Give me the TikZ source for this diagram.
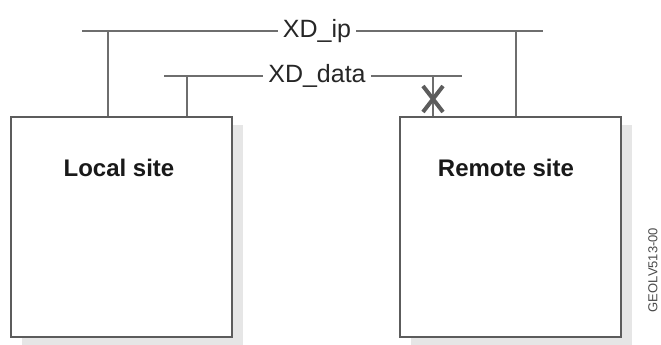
\documentclass[tikz,border=0pt]{standalone}
\usepackage{fontspec}
\setmainfont{Liberation Sans}
\usetikzlibrary{shadows,shapes.misc}

\definecolor{wiregray}{HTML}{6E6E6E}
\definecolor{boxgray}{HTML}{5C5C5C}
\definecolor{shadowgray}{HTML}{E6E6E6}
\definecolor{taggray}{HTML}{4A4A4A}

\tikzset{
	wire/.style={wiregray, line width=2pt},
	sitebox/.style={draw=boxgray, line width=2.4pt, fill=white, anchor=north west,
		minimum width=221pt, minimum height=220pt, inner sep=0pt,
		drop shadow={shadow xshift=11pt, shadow yshift=-8pt, fill=shadowgray, opacity=1}},
	sitetext/.style={font=\fontsize{24}{24}\selectfont\bfseries, text=black!90},
	buslabel/.style={font=\fontsize{25}{25}\selectfont, text=black!85, inner sep=5pt},
	cut/.style={cross out, draw=boxgray, line width=4pt, minimum width=16pt, minimum height=22pt, inner sep=0pt}
}

\begin{document}
\begin{tikzpicture}[x=1pt, y=-1pt]
			\useasboundingbox (0,0) rectangle (661,345);

			% the two sites
			\node[sitebox] (local) at (10,116) {};
			\node[sitebox] (remote) at (399,116) {};
			\node[sitetext] (localtxt) at (119,168) {Local site};
			\node[sitetext] (remotetxt) at (506,168) {Remote site};

			% XD_ip bus
			\coordinate (ipW) at (82,31);
			\coordinate (ipE) at (543,31);
			\node[buslabel] (ip) at (317,31) {XD\_ip};
			\draw[wire] (ipW) -- (ip.west);
			\draw[wire] (ip.east) -- (ipE);
			\coordinate (ipL) at (108,31);
			\coordinate (ipR) at (516,31);
			\draw[wire] (ipL) -- (ipL |- local.north);
			\draw[wire] (ipR) -- (ipR |- remote.north);

			% XD_data bus
			\coordinate (dataW) at (164,76);
			\coordinate (dataE) at (462,76);
			\node[buslabel] (data) at (317,76) {XD\_data};
			\draw[wire] (dataW) -- (data.west);
			\draw[wire] (data.east) -- (dataE);
			\coordinate (dataL) at (187,76);
			\coordinate (dataR) at (433,76);
			\draw[wire] (dataL) -- (dataL |- local.north);
			\draw[wire] (dataR) -- (dataR |- remote.north);

			% broken link
			\node[cut] (broken) at (433,99) {};

			\node[rotate=90, font=\fontsize{13}{13}\selectfont, text=taggray] (tag) at (653,270) {GEOLV513-00};
		\end{tikzpicture}
\end{document}
